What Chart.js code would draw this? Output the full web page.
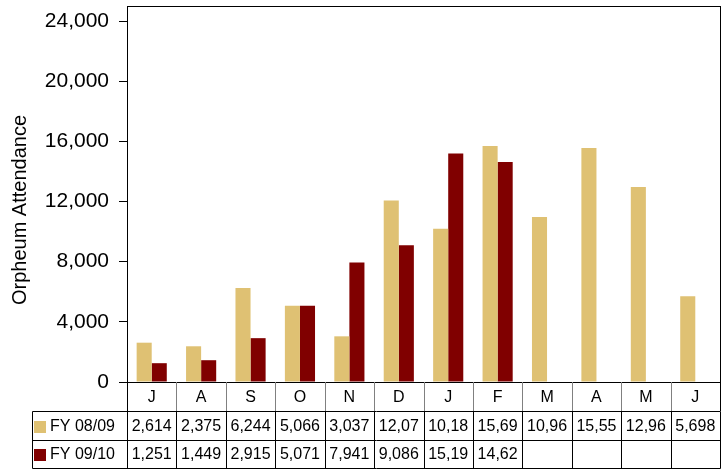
<!DOCTYPE html>
<html>
<head>
<meta charset="utf-8">
<script src="https://cdn.jsdelivr.net/npm/chart.js@4.4.1/dist/chart.umd.min.js"></script>
<style>
  html, body { margin: 0; padding: 0; background: #fff; }
</style>
</head>
<body>
<canvas id="c" width="723" height="469"></canvas>
<script>
// data
const months = ['J', 'A', 'S', 'O', 'N', 'D', 'J', 'F', 'M', 'A', 'M', 'J'];
const fy0809 = [2614, 2375, 6244, 5066, 3037, 12075, 10185, 15695, 10965, 15555, 12965, 5698];
const fy0910 = [1251, 1449, 2915, 5071, 7941, 9086, 15195, 14625, null, null, null, null];
const seriesNames = ['FY 08/09', 'FY 09/10'];
const yTickValues = [0, 4000, 8000, 12000, 16000, 20000, 24000];
const yTitle = 'Orpheum Attendance';

const gold = '#DFC173';
const maroon = '#800000';
const FONT = '"Liberation Sans", Arial, sans-serif';

// table cells show the number cut to 5 characters, like the original
function cellText(v) {
    if (v === null || v === undefined) return '';
    return v.toLocaleString('en-US').slice(0, 5);
}

// draws the frame round the plot, the axis title and the data table under it
const dataTable = {
    id: 'dataTable',
    afterDraw(chart) {
        const ctx = chart.ctx;
        const a = chart.chartArea;
        const x = chart.scales.x;
        const colW = (a.right - a.left) / months.length;
        const rows = [a.bottom, a.bottom + 29, a.bottom + 58, a.bottom + 86];
        const tableLeft = 32;
        const px = v => Math.round(v) + 0.5;

        ctx.save();
        ctx.lineWidth = 1;

        // plot frame
        ctx.strokeStyle = '#000';
        ctx.strokeRect(px(a.left), px(a.top), Math.round(a.right - a.left), Math.round(a.bottom - a.top));

        // y title (sits a bit below the middle in the original)
        ctx.save();
        ctx.translate(20, (a.top + a.bottom) / 2 + 16);
        ctx.rotate(-Math.PI / 2);
        ctx.fillStyle = '#000';
        ctx.font = '20px ' + FONT;
        ctx.textAlign = 'center';
        ctx.textBaseline = 'middle';
        ctx.fillText(yTitle, 0, 0);
        ctx.restore();

        // category row dividers
        for (let i = 0; i <= months.length; i++) {
            const xx = px(a.left + i * colW);
            ctx.strokeStyle = (i === 0 || i === months.length) ? '#000' : '#808080';
            ctx.beginPath();
            ctx.moveTo(xx, rows[0]);
            ctx.lineTo(xx, rows[1]);
            ctx.stroke();
        }

        // data rows grid
        ctx.strokeStyle = '#000';
        for (let r = 1; r < rows.length; r++) {
            ctx.beginPath();
            ctx.moveTo(px(tableLeft), px(rows[r]));
            ctx.lineTo(px(a.right), px(rows[r]));
            ctx.stroke();
        }
        const vlines = [tableLeft];
        for (let i = 0; i <= months.length; i++) vlines.push(a.left + i * colW);
        vlines.forEach(v => {
            ctx.beginPath();
            ctx.moveTo(px(v), px(rows[1]));
            ctx.lineTo(px(v), px(rows[3]));
            ctx.stroke();
        });

        // texts
        ctx.fillStyle = '#000';
        ctx.font = '16px ' + FONT;
        ctx.textAlign = 'center';
        ctx.textBaseline = 'middle';
        months.forEach((m, i) => {
            ctx.fillText(m, x.getPixelForValue(i), (rows[0] + rows[1]) / 2 + 1);
        });
        const series = [fy0809, fy0910];
        const colors = [gold, maroon];
        series.forEach((vals, r) => {
            const cy = (rows[r + 1] + rows[r + 2]) / 2 + 1;
            vals.forEach((v, i) => {
                ctx.fillText(cellText(v), x.getPixelForValue(i), cy);
            });
            // legend key + name
            ctx.fillStyle = colors[r];
            ctx.fillRect(tableLeft + 2, Math.round(cy - 6), 12, 12);
            ctx.fillStyle = '#000';
            ctx.textAlign = 'left';
            ctx.fillText(seriesNames[r], tableLeft + 18, cy);
            ctx.textAlign = 'center';
        });

        ctx.restore();
    }
};

new Chart(document.getElementById('c'), {
    type: 'bar',
    data: {
        labels: months,
        datasets: [
            { label: seriesNames[0], data: fy0809, backgroundColor: gold, borderWidth: 0 },
            { label: seriesNames[1], data: fy0910, backgroundColor: maroon, borderWidth: 0 }
        ]
    },
    options: {
        responsive: false,
        animation: false,
        devicePixelRatio: 1,
        categoryPercentage: 0.61,
        barPercentage: 1.0,
        layout: { padding: { top: 6, right: 3, left: 0, bottom: 0 } },
        plugins: {
            legend: { display: false },
            tooltip: { enabled: false }
        },
        scales: {
            x: {
                grid: { display: false },
                border: { display: true, color: '#000' },
                ticks: { display: false },
                afterFit(scale) {
                    scale.height = 87;
                    scale.paddingLeft = 0;
                    scale.paddingRight = 0;
                }
            },
            y: {
                min: 0,
                max: 25000,
                ticks: {
                    stepSize: 4000,
                    padding: 10,
                    color: '#000',
                    font: { family: FONT, size: 21 },
                    callback: v => v.toLocaleString('en-US')
                },
                afterBuildTicks(scale) {
                    scale.ticks = yTickValues.map(v => ({ value: v }));
                },
                grid: { drawOnChartArea: false, drawTicks: true, tickLength: 8, color: '#000' },
                border: { display: true, color: '#000' },
                afterFit(scale) {
                    scale.width = 127;
                    scale.paddingTop = 0;
                    scale.paddingBottom = 0;
                }
            }
        }
    },
    plugins: [dataTable]
});
</script>
</body>
</html>
